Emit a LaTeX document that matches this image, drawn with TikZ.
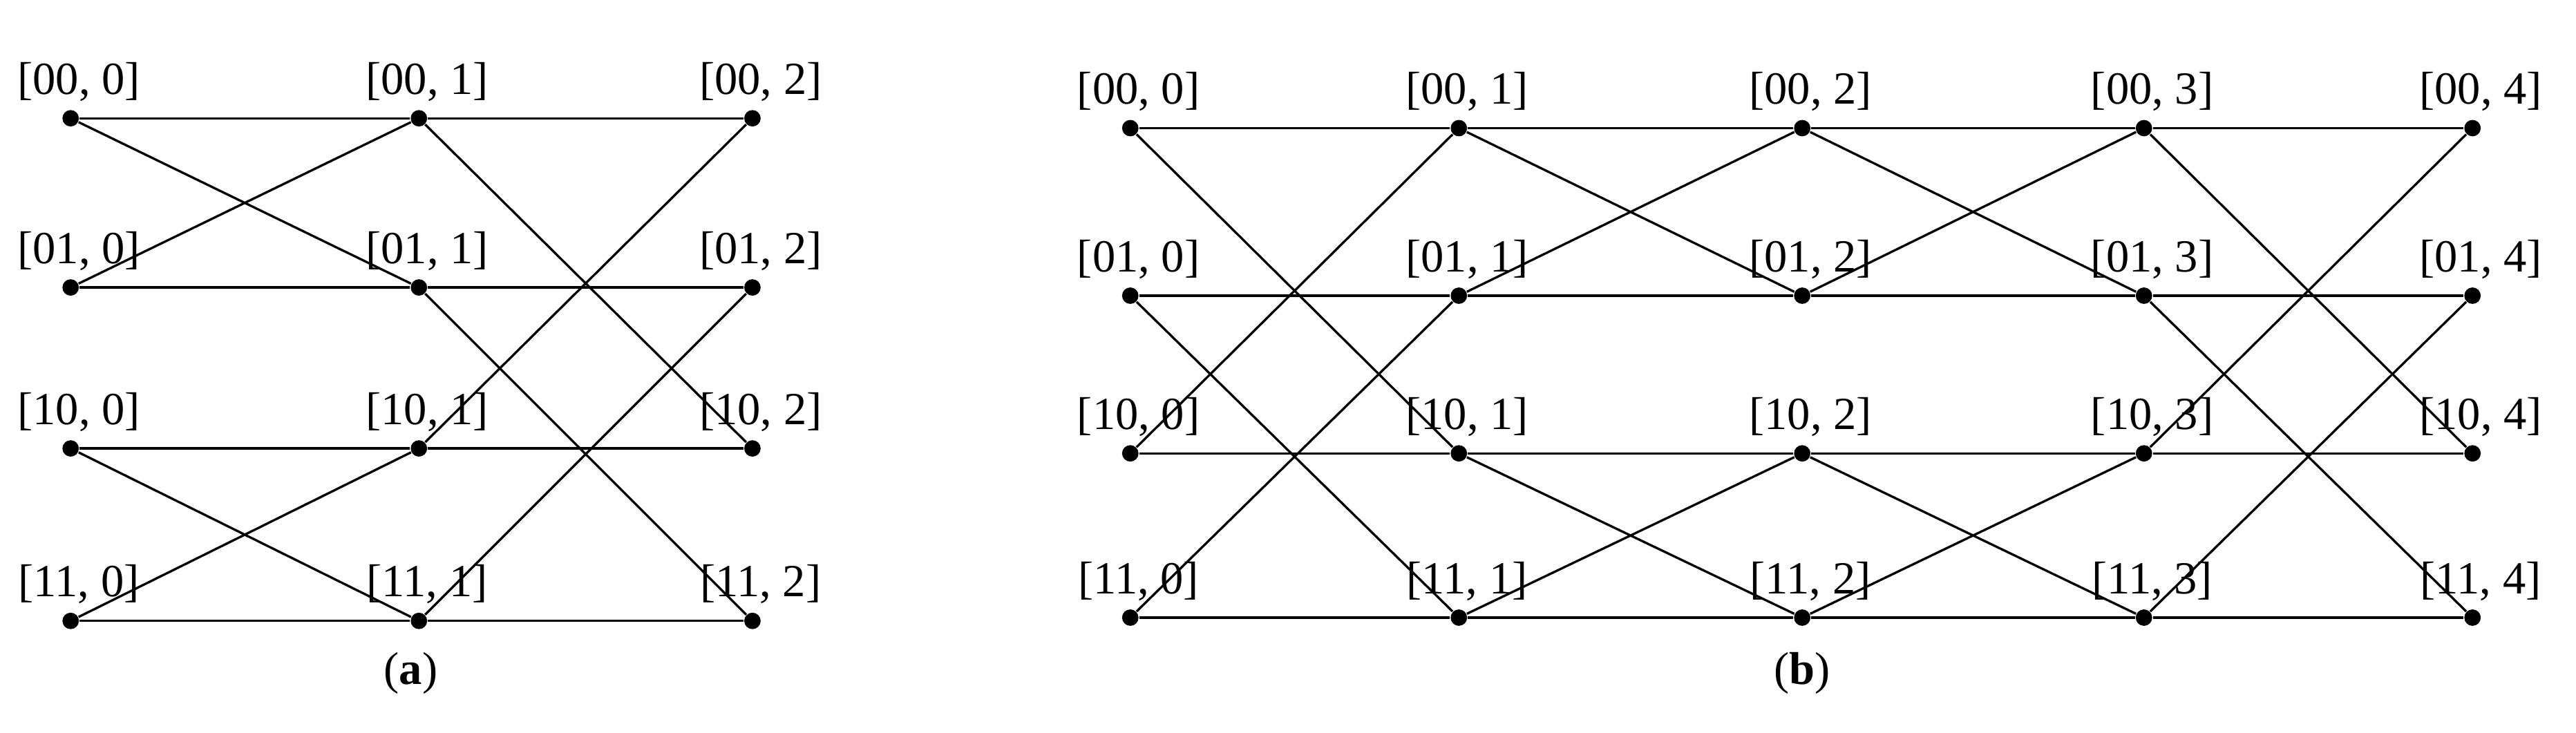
\documentclass[tikz,border=0pt]{standalone}
\usepackage{fontspec}
\setmainfont{Liberation Serif}
\begin{document}
\begin{tikzpicture}[x=0.5pt,y=-0.5pt,
  dot/.style={circle,fill=black,inner sep=0pt,minimum size=5pt},
  lab/.style={font=\fontsize{14}{16}\selectfont,inner sep=0pt},
  ln/.style={line width=0.7pt}]
\useasboundingbox (0,0) rectangle (1568,446);
% (a)
\foreach \c/\x in {0/43,1/255,2/458}{
  \foreach \r/\y/\b in {0/72/00,1/175/01,2/273/10,3/378/11}{
    \node[dot] (a\r\c) at (\x,\y) {};
    \node[lab,anchor=south] (la\r\c) at (\x+5,\y-10) {[\b, \c]};
  }}
\foreach \r in {0,1,2,3}{\draw[ln] (a\r0)--(a\r1)--(a\r2);}
\draw[ln] (a00)--(a11) (a10)--(a01) (a20)--(a31) (a30)--(a21);
\draw[ln] (a01)--(a22) (a11)--(a32) (a21)--(a02) (a31)--(a12);
\node[lab] (capa) at (250,410) {(\textbf{a})};
% (b)
\foreach \c/\x in {0/688,1/888,2/1097,3/1305,4/1505}{
  \foreach \r/\y/\b in {0/78/00,1/180/01,2/276/10,3/376/11}{
    \node[dot] (b\r\c) at (\x,\y) {};
    \node[lab,anchor=south] (lb\r\c) at (\x+5,\y-10) {[\b, \c]};
  }}
\foreach \r in {0,1,2,3}{\draw[ln] (b\r0)--(b\r1)--(b\r2)--(b\r3)--(b\r4);}
\draw[ln] (b00)--(b21) (b10)--(b31) (b20)--(b01) (b30)--(b11);
\draw[ln] (b01)--(b12) (b11)--(b02) (b21)--(b32) (b31)--(b22);
\draw[ln] (b02)--(b13) (b12)--(b03) (b22)--(b33) (b32)--(b23);
\draw[ln] (b03)--(b24) (b13)--(b34) (b23)--(b04) (b33)--(b14);
\node[lab] (capb) at (1097,410) {(\textbf{b})};
\end{tikzpicture}
\end{document}
